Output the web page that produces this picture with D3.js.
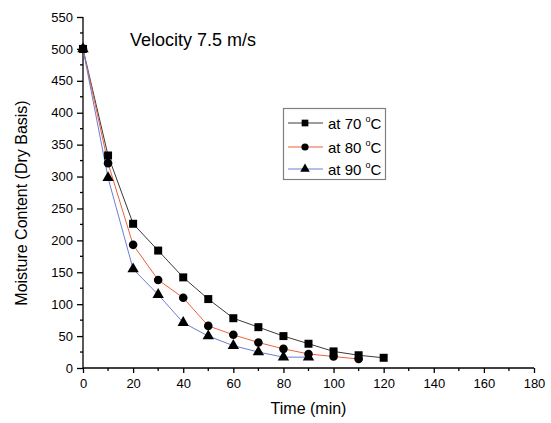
<!DOCTYPE html>
<html><head><meta charset="utf-8">
<script src="https://cdn.jsdelivr.net/npm/d3@7"></script>
<style>
html,body{margin:0;padding:0;background:#fff;}
text{font-family:"Liberation Sans",Arial,sans-serif;fill:#000;}
</style></head>
<body>
<svg id="chart" width="551" height="423"></svg>
<script>
const time70 = [0,10,20,30,40,50,60,70,80,90,100,110,120];
const moist70 = [500,333,226,184,142,108,78,64,50,38,26,20,16];
const time80 = [0,10,20,30,40,50,60,70,80,90,100,110];
const moist80 = [500,321,193,138,110,66,52,40,30,22,18,14];
const time90 = [0,10,20,30,40,50,60,70,80,90];
const moist90 = [500,298,155,115,71,50,35,25,17,17];
const seriesNames = ["at 70 ", "at 80 ", "at 90 "];
const xTicks = [0,20,40,60,80,100,120,140,160,180];
const yTicks = [0,50,100,150,200,250,300,350,400,450,500,550];
const titleText = "Velocity 7.5 m/s";
const xTitle = "Time (min)";
const yTitle = "Moisture Content (Dry Basis)";

const svg = d3.select("#chart");
const m = {l:83, t:17, r:17, b:55};
const W = 551, H = 423;
const x = d3.scaleLinear().domain([0,180]).range([m.l, W-m.r]);
const y = d3.scaleLinear().domain([0,550]).range([H-m.b, m.t]);

const series = [
  {name:seriesNames[0], t:time70, v:moist70, color:"#3a3a3a", shape:d3.symbolSquare, size:64},
  {name:seriesNames[1], t:time80, v:moist80, color:"#f0603c", shape:d3.symbolCircle, size:58},
  {name:seriesNames[2], t:time90, v:moist90, color:"#6c7cd6", shape:d3.symbolTriangle, size:56}
];

// axes
const xMinor = d3.range(10,180,20);
const yMinor = d3.range(25,550,50);
const gx = svg.append("g").attr("transform",`translate(0,${H-m.b})`);
gx.call(d3.axisBottom(x).tickValues(xTicks).tickSize(5).tickPadding(6).tickFormat(d3.format("d")));
gx.selectAll(".tick text").attr("font-size",13).style("font-family","Liberation Sans, Arial, sans-serif");
gx.select(".domain").attr("d",`M${m.l},0H${W-m.r}`).attr("stroke","#000").attr("stroke-width",1.3);
gx.selectAll(".tick line").attr("stroke-width",1.3);
gx.selectAll(".minor").data(xMinor).enter().append("line").attr("class","minor")
  .attr("x1",d=>x(d)).attr("x2",d=>x(d)).attr("y1",0).attr("y2",3).attr("stroke","#000").attr("stroke-width",1.3);

const gy = svg.append("g").attr("transform",`translate(${m.l},0)`);
gy.call(d3.axisLeft(y).tickValues(yTicks).tickSize(6).tickPadding(4).tickFormat(d3.format("d")));
gy.selectAll(".tick text").attr("font-size",13).style("font-family","Liberation Sans, Arial, sans-serif");
gy.select(".domain").attr("d",`M0,${H-m.b}V${m.t}`).attr("stroke","#000").attr("stroke-width",1.3);
gy.selectAll(".tick line").attr("stroke-width",1.3);
gy.selectAll(".minor").data(yMinor).enter().append("line").attr("class","minor")
  .attr("y1",d=>y(d)).attr("y2",d=>y(d)).attr("x1",0).attr("x2",-3).attr("stroke","#000").attr("stroke-width",1.3);

// titles
svg.append("text").attr("x",(m.l+W-m.r)/2).attr("y",414).attr("text-anchor","middle").attr("font-size",16).text(xTitle);
svg.append("text").attr("transform","translate(27,203) rotate(-90)").attr("text-anchor","middle").attr("font-size",16).text(yTitle);
svg.append("text").attr("x",130).attr("y",46).attr("font-size",18).text(titleText);

// series
const line = d3.line().x(d=>x(d[0])).y(d=>y(d[1]));
series.forEach(s=>{
  const pts = s.t.map((t,i)=>[t,s.v[i]]);
  svg.append("path").datum(pts).attr("d",line).attr("fill","none").attr("stroke",s.color).attr("stroke-width",1);
});
series.forEach(s=>{
  const pts = s.t.map((t,i)=>[t,s.v[i]]);
  svg.append("g").selectAll("path").data(pts).enter().append("path")
    .attr("transform",d=>`translate(${x(d[0])},${y(d[1])})`)
    .attr("d",d3.symbol().type(s.shape).size(s.size)).attr("fill","#000");
});

// legend
const lg = svg.append("g");
lg.append("rect").attr("x",283.5).attr("y",108.5).attr("width",102).attr("height",71)
  .attr("fill","#fff").attr("stroke","#808080").attr("stroke-width",1.2);
const ly = [123,147,169];
series.forEach((s,i)=>{
  lg.append("line").attr("x1",288).attr("x2",323).attr("y1",ly[i]).attr("y2",ly[i]).attr("stroke",s.color).attr("stroke-width",1);
  lg.append("path").attr("transform",`translate(305,${ly[i]})`).attr("d",d3.symbol().type(s.shape).size(s.size*0.7)).attr("fill","#000");
  const t = lg.append("text").attr("x",328).attr("y",ly[i]+5.5).attr("font-size",15);
  t.append("tspan").text(s.name);
  t.append("tspan").attr("font-size",9).attr("dy",-7).text("o");
  t.append("tspan").attr("dy",7).text("C");
});
</script>
</body></html>
